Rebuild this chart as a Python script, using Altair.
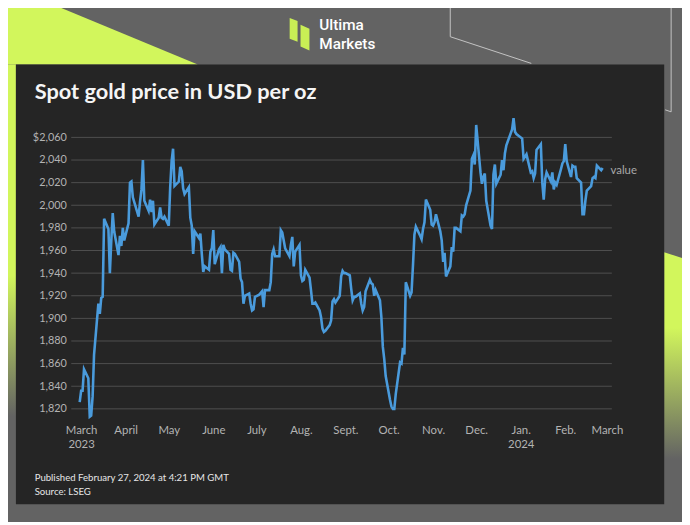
import altair as alt
import pandas as pd

# ---------------- data ----------------
periods = [(2023, 2), (2023, 3), (2023, 4), (2023, 5), (2023, 6), (2023, 7), (2023, 8),
           (2023, 9), (2023, 10), (2023, 11), (2023, 12), (2024, 1), (2024, 2)]
trade_days = [
    [28],
    [1, 2, 3, 6, 7, 8, 9, 10, 13, 14, 15, 16, 17, 20, 21, 22, 23, 24, 27, 28, 29, 30, 31],
    [3, 4, 5, 6, 10, 11, 12, 13, 14, 17, 18, 19, 20, 21, 24, 25, 26, 27, 28],
    [1, 2, 3, 4, 5, 8, 9, 10, 11, 12, 15, 16, 17, 18, 19, 22, 23, 24, 25, 26, 29, 30, 31],
    [1, 2, 5, 6, 7, 8, 9, 12, 13, 14, 15, 16, 19, 20, 21, 22, 23, 26, 27, 28, 29, 30],
    [3, 5, 6, 7, 10, 11, 12, 13, 14, 17, 18, 19, 20, 21, 24, 25, 26, 27, 28, 31],
    [1, 2, 3, 4, 7, 8, 9, 10, 11, 14, 15, 16, 17, 18, 21, 22, 23, 24, 25, 28, 29, 30, 31],
    [1, 4, 5, 6, 7, 8, 11, 12, 13, 14, 15, 18, 19, 20, 21, 22, 25, 26, 27, 28, 29],
    [2, 3, 4, 5, 6, 9, 10, 11, 12, 13, 16, 17, 18, 19, 20, 23, 24, 25, 26, 27, 30, 31],
    [1, 2, 3, 6, 7, 8, 9, 10, 13, 14, 15, 16, 17, 20, 21, 22, 23, 24, 27, 28, 29, 30],
    [1, 4, 5, 6, 7, 8, 11, 12, 13, 14, 15, 18, 19, 20, 21, 22, 26, 27, 28, 29],
    [2, 3, 4, 5, 8, 9, 10, 11, 12, 15, 16, 17, 18, 19, 22, 23, 24, 25, 26, 29, 30, 31],
    [1, 2, 5, 6, 7, 8, 9, 12, 13, 14, 15, 16, 19, 20, 21, 22, 23, 26, 27],
]
prices = [
    [1826],
    [1836, 1836, 1855, 1847, 1813, 1814, 1831, 1868, 1913, 1904, 1918, 1919, 1988, 1979, 1940,
     1969, 1993, 1977, 1956, 1973, 1964, 1980, 1969],
    [1984, 2020, 2021, 2007, 1990, 2003, 2014, 2040, 2004, 1995, 2005, 1994, 2004, 1983, 1989,
     1998, 1989, 1988, 1990],
    [1982, 2016, 2039, 2050, 2017, 2021, 2034, 2030, 2015, 2010, 2016, 1989, 1982, 1957, 1977,
     1971, 1975, 1957, 1941, 1946, 1943, 1959, 1962],
    [1978, 1948, 1961, 1963, 1940, 1965, 1961, 1957, 1943, 1942, 1958, 1957, 1950, 1935, 1932,
     1913, 1920, 1922, 1913, 1907, 1908, 1919],
    [1921, 1924, 1910, 1925, 1925, 1932, 1957, 1961, 1955, 1955, 1978, 1976, 1969, 1962, 1955,
     1965, 1972, 1946, 1959, 1965],
    [1938, 1933, 1934, 1943, 1936, 1925, 1913, 1913, 1914, 1907, 1901, 1891, 1888, 1889, 1894,
     1898, 1915, 1917, 1914, 1920, 1937, 1942, 1940],
    [1940, 1938, 1926, 1916, 1919, 1919, 1922, 1913, 1907, 1910, 1924, 1934, 1931, 1930, 1920,
     1925, 1916, 1901, 1875, 1864, 1849],
    [1828, 1822, 1820, 1820, 1833, 1861, 1860, 1874, 1868, 1932, 1920, 1923, 1947, 1974, 1981,
     1973, 1970, 1979, 1985, 2005, 1996, 1983],
    [1982, 1985, 1992, 1977, 1969, 1950, 1958, 1937, 1946, 1963, 1959, 1980, 1980, 1977, 1991,
     1990, 1992, 2000, 2013, 2041, 2044, 2036],
    [2071, 2029, 2019, 2025, 2028, 2004, 1982, 1979, 2027, 2036, 2019, 2027, 2040, 2031, 2046,
     2053, 2067, 2077, 2065, 2063],
    [2059, 2041, 2043, 2045, 2029, 2030, 2024, 2028, 2049, 2054, 2020, 2005, 2023, 2029, 2021,
     2029, 2014, 2020, 2018, 2032, 2037, 2039],
    [2054, 2039, 2025, 2035, 2034, 2034, 2024, 2020, 1992, 1992, 2004, 2013, 2017, 2024, 2025,
     2024, 2035, 2031, 2033],
]

series_name = "value"
y_ticks = [1820, 1840, 1860, 1880, 1900, 1920, 1940, 1960, 1980, 2000, 2020, 2040, 2060]
tick_months = [(2023, 3), (2023, 4), (2023, 5), (2023, 6), (2023, 7), (2023, 8), (2023, 9),
               (2023, 10), (2023, 11), (2023, 12), (2024, 1), (2024, 2), (2024, 3)]
month_names = ["Jan.", "Feb.", "March", "April", "May", "June", "July", "Aug.", "Sept.",
               "Oct.", "Nov.", "Dec."]

title_text = "Spot gold price in USD per oz"
footer_1 = "Published February 27, 2024 at 4:21 PM GMT"
footer_2 = "Source: LSEG"
logo_1 = "Ultima"
logo_2 = "Markets"

# ---------------- table ----------------
rows = []
for (yr, mo), ds, vs in zip(periods, trade_days, prices):
    assert len(ds) == len(vs), (yr, mo)
    for d, v in zip(ds, vs):
        rows.append({"date": f"{yr:04d}-{mo:02d}-{d:02d}", "price": v})
df = pd.DataFrame(rows)
last = df.tail(1)
one = pd.DataFrame({"k": [0]})

# ---------------- layout ----------------
W, H = 547, 309
OX, OY = 72, 113          # page position of the plot area


def px(X):
    return X - OX


def py(Y):
    return Y - OY


GREEN = "#d2f65c"
GREY = "#636363"
PANEL = "#252525"
FONT = "Lato"

x_scale = alt.Scale(type="utc", domain=[
    alt.DateTime(year=2023, month=2, date=22, hours=3, utc=True),
    alt.DateTime(year=2024, month=3, date=4, hours=10, utc=True)])
y_scale = alt.Scale(domain=[1810, 2080], nice=False, zero=False)

mexpr = "[" + ",".join(f"'{m}'" for m in month_names) + "][utcmonth(datum.value)]"
x_label_expr = (f"((utcmonth(datum.value) == 2 && utcyear(datum.value) == 2023) || "
                f"utcmonth(datum.value) == 0) ? [{mexpr}, '' + utcyear(datum.value)] : {mexpr}")

x_axis = alt.Axis(
    values=[alt.DateTime(year=y, month=m, date=1, utc=True) for y, m in tick_months],
    labelExpr=x_label_expr, title=None, grid=False, ticks=False, tickSize=0, domain=False,
    labelPadding=4, labelFont=FONT, labelFontSize=11.5, labelColor="#b3b3b3",
    labelLineHeight=15, labelOverlap=False, labelFlush=False, zindex=1)
y_axis = alt.Axis(
    values=y_ticks,
    labelExpr="datum.value == 2060 ? '$' + format(datum.value, ',') : format(datum.value, ',')",
    title=None, grid=False, ticks=False, tickSize=0, domain=False, labelPadding=5,
    labelFont=FONT, labelFontSize=11, labelColor="#b3b3b3", zindex=1)

X = alt.X("date:T", scale=x_scale, axis=x_axis)
Y = alt.Y("price:Q", scale=y_scale, axis=y_axis)


def shape(path, X0, Y0, **kw):
    return alt.Chart(one).mark_point(shape=path, size=4, opacity=1, **kw).encode(
        x=alt.value(px(X0)), y=alt.value(py(Y0)))


def grad(stops):
    return alt.LinearGradient(gradient="linear", x1=0, y1=0, x2=0, y2=1,
                              stops=[alt.GradientStop(offset=o, color=c) for o, c in stops])


# decoration
green_top = shape("M0,0 L50,0 L200,62 L0,62 Z", 0, 0, filled=True, fill=GREEN, strokeWidth=0)
green_left = alt.Chart(one).mark_rect(
    fill=grad([(0, GREEN), (0.48, GREEN), (0.8, GREY), (1, GREY)])).encode(
    x=alt.value(px(0)), x2=alt.value(px(16)), y=alt.value(py(62)), y2=alt.value(py(507)))
green_right = shape("M0,0 L18,6 L18,255 L0,255 Z", 672, 252, filled=True,
                    fill=grad([(0, GREEN), (0.3, GREEN), (0.82, GREY), (1, GREY)]), strokeWidth=0)
line_a = shape("M0,0 L0,34 L82,61", 455.5, 0, filled=False, color="#c4c4c4", strokeWidth=1)
line_b = shape("M0,0 L0,110 L-6,108", 679, 0, filled=False, color="#c4c4c4", strokeWidth=1)
panel = alt.Chart(one).mark_rect(color=PANEL).encode(
    x=alt.value(px(16)), x2=alt.value(px(672)), y=alt.value(py(62)), y2=alt.value(py(507)))
logo_icon = shape("M0,0 L8,3 L8,24 L0,21 Z M11,7 L20,11 L20,33 L11,29 Z", 293, 15,
                  filled=True, fill="#c9ee55", strokeWidth=0)


def text(t, X0, Y0, size, color, weight="normal", font=FONT, baseline="middle"):
    return alt.Chart(one).mark_text(
        text=t, align="left", baseline=baseline, font=font, fontSize=size,
        fontWeight=weight, color=color).encode(x=alt.value(px(X0)), y=alt.value(py(Y0)))


logo_t1 = text(logo_1, 323, 22.5, 15.5, "#ffffff", font="Roboto", weight=500)
logo_t2 = text(logo_2, 323, 41.5, 15.5, "#ffffff", font="Roboto", weight=500)
title = text(title_text, 35, 97, 22, "#f5f5f5", weight="bold", baseline="alphabetic")
foot1 = text(footer_1, 35, 480.5, 9.7, "#e6e6e6")
foot2 = text(footer_2, 35, 494.5, 9.7, "#e6e6e6")

# chart
grid = alt.Chart(pd.DataFrame({"price": y_ticks})).mark_rule(
    color="#4f4f4f", strokeWidth=1).encode(y=Y, x=alt.value(0), x2=alt.value(W))
line = alt.Chart(df).mark_line(color="#4a9bdc", strokeWidth=2.6).encode(x=X, y=Y)
label = alt.Chart(last).mark_text(
    text=series_name, align="left", baseline="middle", dx=8, dy=3, font=FONT,
    fontSize=11.5, color="#a8a8a8").encode(x=X, y=Y)

chart = alt.layer(
    green_top, green_left, green_right, line_a, line_b, panel, logo_icon, logo_t1, logo_t2,
    title, foot1, foot2, grid, line, label
).properties(
    width=W, height=H,
    autosize=alt.AutoSizeParams(type="none"),
    padding={"left": OX - 8, "top": OY - 8, "right": 682 - (OX - 8) - W,
             "bottom": 514 - (OY - 8) - H},
    background=GREY,
).configure_view(strokeWidth=0)

chart.save("out.html", embed_options={"renderer": "svg", "actions": False})
